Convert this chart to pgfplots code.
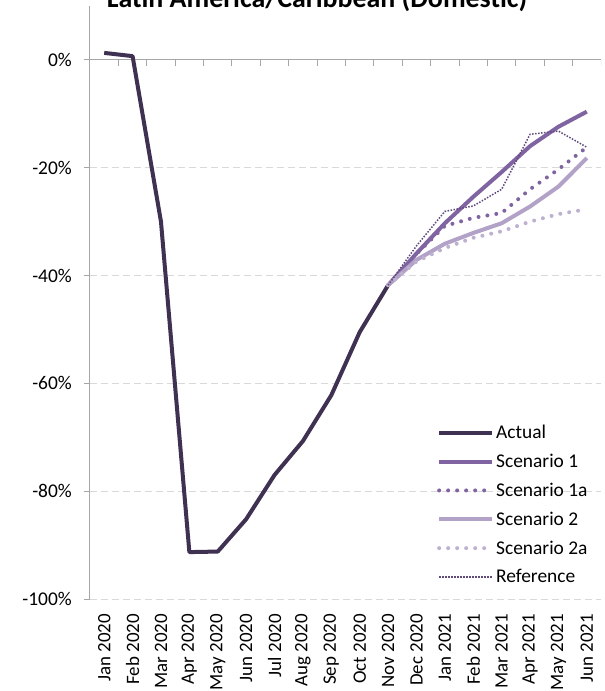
\documentclass[border=0pt]{standalone}
\usepackage{fontspec}
\setmainfont{Carlito}
\usepackage{pgfplots}
\pgfplotsset{compat=1.18}
\definecolor{actual}{HTML}{3F3151}
\definecolor{scA}{HTML}{8064A2}
\definecolor{scB}{HTML}{B3A2C7}
\definecolor{refc}{HTML}{604A7B}
\definecolor{axgray}{HTML}{A6A6A6}
\definecolor{gridgray}{HTML}{D9D9D9}
\begin{document}
\begin{tikzpicture}
\begin{axis}[
  scale only axis, width=511bp, height=593bp,
  at={(0,0)}, anchor=south west,
  xmin=-0.5, xmax=17.5, ymin=-100, ymax=10,
  axis x line*=bottom, axis y line*=left,
  x axis line style={draw=none},
  y axis line style={draw=axgray, line width=1bp, -},
  xtick={0,...,17},
  xticklabels={Jan 2020,Feb 2020,Mar 2020,Apr 2020,May 2020,Jun 2020,Jul 2020,Aug 2020,Sep 2020,Oct 2020,Nov 2020,Dec 2020,Jan 2021,Feb 2021,Mar 2021,Apr 2021,May 2021,Jun 2021},
  xticklabel style={yshift=-9bp, rotate=90, anchor=east, inner sep=0pt, font=\fontsize{19}{23}\selectfont},
  x tick style={draw=none},
  ytick={-100,-80,-60,-40,-20,0},
  yticklabels={-100\%,-80\%,-60\%,-40\%,-20\%,0\%},
  y tick style={draw=axgray, line width=1bp},
  yticklabel style={inner sep=0pt, xshift=-12bp},
  tick align=outside, major tick length=6bp,
  ymajorgrids, grid style={gridgray, line width=1bp, dash pattern=on 7bp off 4bp},
  tick label style={font=\fontsize{19.5}{23}\selectfont, text=black},
  legend image code/.code={\draw[#1] (0bp,0bp) -- (53bp,0bp);},
  legend cell align=left,
  legend style={at={(axis description cs:0.679,0.2968)}, anchor=north west,
    draw=none, fill=none, inner sep=0pt, row sep=10bp,
    font=\fontsize{19.5}{23}\selectfont},
]
\draw[axgray, line width=1bp] (axis cs:-0.5,0) -- (axis cs:17.5,0);
\pgfplotsinvokeforeach{0.5,1.5,...,17.5}{\draw[axgray, line width=1bp] (axis cs:#1,0) -- ([yshift=-6bp]axis cs:#1,0);}
\addplot[actual, line width=4bp, line join=round] coordinates {(0,1.3)(1,0.7)(2,-30)(3,-91.3)(4,-91.2)(5,-85.2)(6,-77)(7,-70.7)(8,-62.2)(9,-50.5)(10,-41.8)};
\addlegendentry{Actual}
\addplot[scA, line width=4bp, line join=round] coordinates {(10,-41.8)(11,-35.9)(12,-30.3)(13,-25.4)(14,-20.8)(15,-16)(16,-12.4)(17,-9.6)};
\addlegendentry{Scenario 1}
\addplot[scA, line width=4bp, line cap=round, dash pattern=on 0bp off 9bp] coordinates {(10,-41.8)(11,-36)(12,-30.8)(13,-29.3)(14,-28.4)(15,-24)(16,-20.3)(17,-16.2)};
\addlegendentry{Scenario 1a}
\addplot[scB, line width=4bp, line join=round] coordinates {(10,-41.8)(11,-37.1)(12,-34.1)(13,-32.1)(14,-30.3)(15,-27.2)(16,-23.5)(17,-18.2)};
\addlegendentry{Scenario 2}
\addplot[scB!85, line width=4bp, line cap=round, dash pattern=on 0bp off 9bp] coordinates {(10,-41.8)(11,-37.4)(12,-34.9)(13,-33)(14,-31.8)(15,-30)(16,-28.6)(17,-27.7)};
\addlegendentry{Scenario 2a}
\addplot[refc, line width=1.5bp, dash pattern=on 1.5bp off 1.5bp] coordinates {(10,-41.8)(11,-34.5)(12,-28.1)(13,-27.1)(14,-24)(15,-13.8)(16,-13.2)(17,-16.2)};
\addlegendentry{Reference}
\end{axis}
\node[font=\bfseries\fontsize{28}{32}\selectfont, anchor=base] at (227bp,591bp) {Latin America/Caribbean (Domestic)};
\pgfresetboundingbox
\useasboundingbox (-90bp,-92bp) rectangle (515bp,599bp);
\end{tikzpicture}
\end{document}
